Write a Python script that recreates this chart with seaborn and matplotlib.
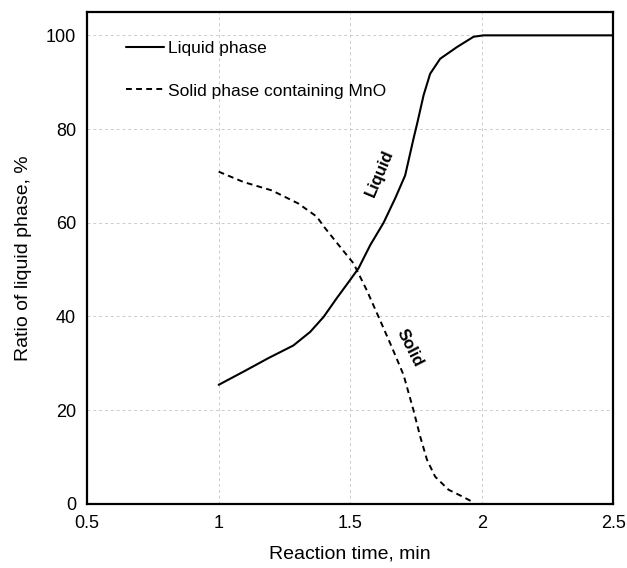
import pandas as pd
import matplotlib.pyplot as plt
import seaborn as sns


LIQUID_TIME = [1.0, 1.094, 1.189, 1.284, 1.348, 1.399, 1.449, 1.5, 1.532, 1.576, 1.627,
               1.671, 1.709, 1.741, 1.756, 1.779, 1.804, 1.842, 1.906, 1.969, 2.007, 2.5]
LIQUID_RATIO = [25.4, 28.2, 31.1, 33.8, 36.7, 39.9, 43.9, 47.8, 50.3, 55.2, 60.0,
                65.2, 70.1, 78.0, 81.5, 87.2, 91.8, 95.0, 97.5, 99.7, 100.0, 100.0]

SOLID_TIME = [1.0, 1.094, 1.202, 1.303, 1.373, 1.401, 1.451, 1.513, 1.563, 1.608, 1.658,
              1.703, 1.741, 1.766, 1.792, 1.823, 1.874, 1.925, 1.969]
SOLID_RATIO = [70.9, 68.7, 66.9, 64.1, 61.3, 59.1, 55.6, 51.3, 45.6, 39.9, 33.5,
               27.5, 19.9, 14.4, 9.4, 5.8, 3.0, 1.6, 0.3]

X_TICKS = [0.5, 1, 1.5, 2, 2.5]
X_TICK_LABELS = ["0.5", "1", "1.5", "2", "2.5"]
Y_TICKS = [0, 20, 40, 60, 80, 100]


def main() -> None:
    sns.set_style("white")
    plt.rcParams["font.family"] = ["Liberation Sans", "DejaVu Sans"]
    plt.rcParams["text.color"] = "black"
    plt.rcParams["axes.labelcolor"] = "black"

    liquid_df = pd.DataFrame({"time": LIQUID_TIME, "ratio": LIQUID_RATIO})
    solid_df = pd.DataFrame({"time": SOLID_TIME, "ratio": SOLID_RATIO})

    fig = plt.figure(figsize=(6.27, 5.68), dpi=100)
    ax = fig.add_axes([0.139, 0.113, 0.839, 0.866])

    sns.lineplot(data=liquid_df, x="time", y="ratio", ax=ax, color="black",
                 linewidth=1.5, label="Liquid phase", sort=False)
    sns.lineplot(data=solid_df, x="time", y="ratio", ax=ax, color="black",
                 linewidth=1.4, label="Solid phase containing MnO", sort=False)
    ax.lines[1].set_dashes((3.0, 2.2))

    ax.set_xlim(0.5, 2.5)
    ax.set_ylim(0, 105)
    ax.set_xticks(X_TICKS)
    ax.set_xticklabels(X_TICK_LABELS)
    ax.set_yticks(Y_TICKS)
    ax.grid(True, color="#cccccc", linestyle=(0, (3, 3)), linewidth=0.7)
    ax.set_axisbelow(True)

    for spine in ax.spines.values():
        spine.set_color("black")
        spine.set_linewidth(1.6)

    ax.tick_params(axis="both", direction="in", length=5, width=1.3,
                   labelsize=13, colors="black", pad=8)
    ax.set_xlabel("Reaction time, min", fontsize=14, labelpad=10)
    ax.set_ylabel("Ratio of liquid phase, %", fontsize=14, labelpad=10)

    ax.text(1.614, 70.5, "Liquid", rotation=67, fontsize=12, fontweight="bold",
            ha="center", va="center")
    ax.text(1.728, 33.2, "Solid", rotation=-63, fontsize=12, fontweight="bold",
            ha="center", va="center")

    legend = ax.legend(loc="upper left", bbox_to_anchor=(0.044, 0.972), frameon=False,
                       fontsize=12.5, handlelength=2.2, labelspacing=1.55,
                       handletextpad=0.2)
    legend.get_lines()[1].set_dashes((3.0, 2.2))

    fig.savefig("out.png", dpi=100)


if __name__ == "__main__":
    main()
